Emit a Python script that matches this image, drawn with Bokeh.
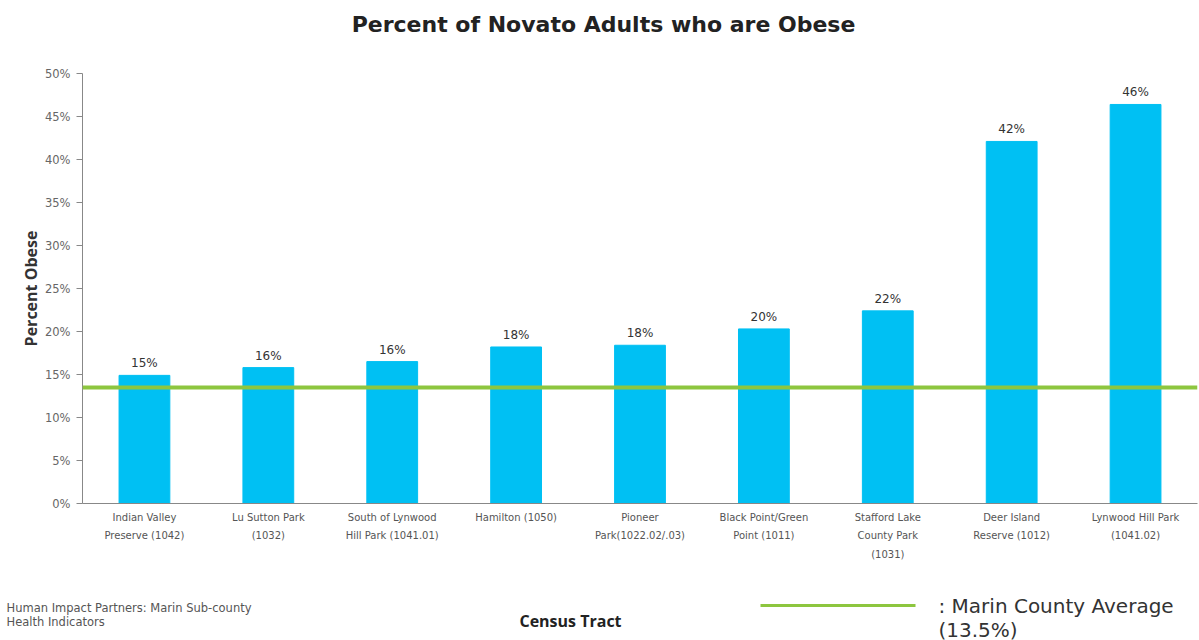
from bokeh.plotting import figure
from bokeh.layouts import column
from bokeh.models import (ColumnDataSource, LabelSet, Span, FixedTicker,
                          NumeralTickFormatter, Range1d, FactorRange)
from bokeh.core.properties import value
from bokeh.embed import file_html
from bokeh.resources import INLINE

# ---- data ----
tracts = ["Indian Valley\nPreserve (1042)", "Lu Sutton Park\n(1032)",
          "South of Lynwood\nHill Park (1041.01)", "Hamilton (1050)",
          "Pioneer\nPark(1022.02/.03)", "Black Point/Green\nPoint (1011)",
          "Stafford Lake\nCounty Park\n(1031)", "Deer Island\nReserve (1012)",
          "Lynwood Hill Park\n(1041.02)"]
obese = [0.149, 0.158, 0.165, 0.182, 0.184, 0.203, 0.224, 0.421, 0.464]
bar_labels = ["15%", "16%", "16%", "18%", "18%", "20%", "22%", "42%", "46%"]
county_avg = 0.135
y_ticks = [0, 0.05, 0.10, 0.15, 0.20, 0.25, 0.30, 0.35, 0.40, 0.45, 0.50]
title_text = "Percent of Novato Adults who are Obese"
footnote_lines = ["Human Impact Partners: Marin Sub-county", "Health Indicators"]
legend_lines = [": Marin County Average", "(13.5%)"]

GREEN = "#8DC63F"
AXIS = "#888888"


def strip(height):
    s = figure(width=1199, height=height, output_backend="svg",
               toolbar_location=None, x_range=Range1d(0, 1199),
               y_range=Range1d(height, 0), x_axis_type=None, y_axis_type=None,
               min_border_left=0, min_border_right=0, min_border_top=0,
               min_border_bottom=0)
    s.frame_align = False
    s.outline_line_color = None
    s.xgrid.grid_line_color = None
    s.ygrid.grid_line_color = None
    return s


# ---- top strip: title ----
t = strip(40)
t.text(x=[603], y=[24], text=[title_text], text_font=value("DejaVu Sans"),
       text_font_style="bold", text_font_size="22px", text_color="#222222",
       text_baseline="middle", text_align="center")

# ---- main chart ----
src = ColumnDataSource(dict(tract=tracts, obese=obese, lab=bar_labels))

p = figure(width=1199, height=533, output_backend="svg", toolbar_location=None,
           x_range=FactorRange(factors=tracts, range_padding=0),
           y_range=Range1d(0, 0.5),
           min_border_left=82, min_border_right=2, min_border_top=33,
           min_border_bottom=70)
p.frame_align = False
p.outline_line_color = None
p.xgrid.grid_line_color = None
p.ygrid.grid_line_color = None

p.vbar(x="tract", top="obese", width=0.41, source=src, color="#00C0F3")

p.add_layout(Span(location=county_avg, dimension="width", line_color=GREEN,
                  line_width=4))

p.add_layout(LabelSet(x="tract", y="obese", text="lab", source=src, y_offset=5,
                      text_align="center", text_baseline="bottom",
                      text_font=value("DejaVu Sans"), text_font_size="12px",
                      text_color="#333333"))

# y axis
p.yaxis.ticker = FixedTicker(ticks=y_ticks)
p.yaxis.formatter = NumeralTickFormatter(format="0%")
p.yaxis.axis_line_color = AXIS
p.yaxis.major_tick_line_color = AXIS
p.yaxis.major_tick_out = 6
p.yaxis.major_tick_in = 0
p.yaxis.major_label_standoff = 6
p.yaxis.minor_tick_line_color = None
p.yaxis.major_label_text_font = "DejaVu Sans"
p.yaxis.major_label_text_font_size = "11.5px"
p.yaxis.major_label_text_color = "#666666"
p.yaxis.axis_label = "Percent Obese"
p.yaxis.axis_label_text_font = "Open Sans"
p.yaxis.axis_label_text_font_style = "bold"
p.yaxis.axis_label_text_font_size = "16px"
p.yaxis.axis_label_text_color = "#333333"
p.yaxis.axis_label_standoff = 0

# x axis
p.xaxis.axis_line_color = AXIS
p.xaxis.major_tick_line_color = None
p.xaxis.major_label_text_font = "DejaVu Sans"
p.xaxis.major_label_text_font_size = "10px"
p.xaxis.major_label_text_line_height = 1.7
p.xaxis.major_label_text_color = "#555555"
p.xaxis.major_label_standoff = 2

# ---- bottom strip: footnote, axis title, legend ----
b = strip(67)
b.text(x=[6, 6], y=[34, 48], text=footnote_lines, text_font=value("DejaVu Sans"),
       text_font_size="11.5px", text_color="#555555", text_baseline="middle",
       text_align="left")
b.text(x=[570], y=[47], text=["Census Tract"], text_font=value("Open Sans"),
       text_font_style="bold", text_font_size="16px", text_color="#222222",
       text_baseline="middle", text_align="center")
b.line(x=[760, 915], y=[32, 32], line_color=GREEN, line_width=3)
b.text(x=[938, 938], y=[32, 56], text=legend_lines, text_font=value("DejaVu Sans"),
       text_font_size="20px", text_color="#333333", text_baseline="middle",
       text_align="left")

open("out.html", "w").write(file_html(column(t, p, b, spacing=0), INLINE))
